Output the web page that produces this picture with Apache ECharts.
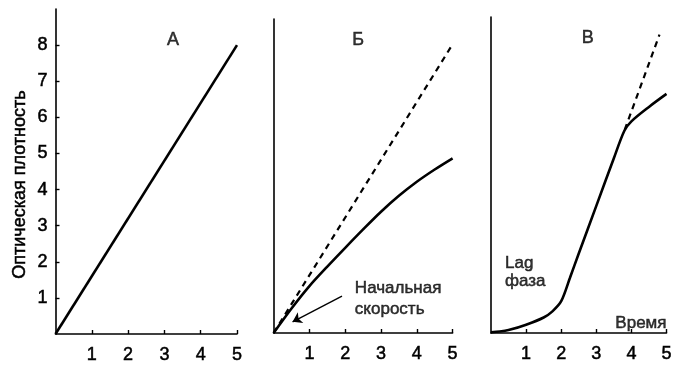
<!DOCTYPE html>
<html>
<head>
<meta charset="utf-8">
<style>
  html, body { margin: 0; padding: 0; background: #fff; }
  #chart { width: 676px; height: 365px; }
</style>
<script src="https://cdn.jsdelivr.net/npm/echarts@6/dist/echarts.min.js"></script>
</head>
<body>
<div id="chart"></div>
<script>
// Time ticks shared by the three panels
const timeTicks = [1, 2, 3, 4, 5];
const densityTicks = [1, 2, 3, 4, 5, 6, 7, 8];

// Panel А: linear growth of optical density
const aTime = [0, 5];
const aDensity = [0, 8];

// Panel Б: initial-rate tangent (dashed) and the real, slowing curve (solid)
const bTangentTime = [0, 5];
const bTangentDensity = [0, 8];
const bTime = [0, 0.5, 1, 1.5, 2, 2.5, 3, 3.5, 4, 4.5, 5];
const bDensity = [0, 0.68, 1.3, 1.84, 2.36, 2.87, 3.36, 3.8, 4.19, 4.53, 4.84];

// Panel В: lag phase, linear phase, then saturation; dashed = linear extrapolation
const cTime = [0, 0.25, 0.5, 1, 1.5, 1.75, 2, 2.25, 2.5, 3, 3.5, 3.8, 4, 4.5, 5];
const cDensity = [0.02, 0.04, 0.08, 0.23, 0.43, 0.6, 0.88, 1.53, 2.2, 3.52, 4.84, 5.6, 5.86, 6.26, 6.62];
const cExtraTime = [3.81, 4.8];
const cExtraDensity = [5.63, 8.26];

// Annotation texts and their anchor points (data units)
const panelTitles = ['А', 'Б', 'В'];
const panelTitleAt = [[3.24, 8.14], [2.36, 8.12], [2.76, 8.18]];
const rateText = 'Начальная\nскорость';
const rateTextAt = [2.27, 0.94];
const rateArrowFrom = [1.91, 1.02];
const rateArrowTo = [0.53, 0.31];
const lagText = 'Lag\nфаза';
const lagTextAt = [0.4, 1.67];
const timeText = 'Время';
const timeTextAt = [5, 0.28];

const yName = 'Оптическая плотность';

const FONT = '"Liberation Sans", Arial, sans-serif';
const INK = '#000';
// a hairline outline gives the print-like weight of the lettering
const heavy = { textBorderColor: INK, textBorderWidth: 0.5 };

const pairs = (xs, ys) => xs.map((x, i) => [x, ys[i]]);

function xAxisFor(gridIndex) {
  return {
    type: 'value', gridIndex, min: 0, max: 5, interval: 1,
    axisLine: { show: true, onZero: false, lineStyle: { color: INK, width: 1.6 } },
    axisTick: { show: true, inside: true, length: 4, customValues: timeTicks,
                lineStyle: { color: INK, width: 1.4 } },
    axisLabel: Object.assign({ show: true, customValues: timeTicks, color: INK, fontSize: 18,
                 fontFamily: FONT, margin: 12 }, heavy),
    splitLine: { show: false }
  };
}

function yAxisFor(gridIndex, max, withLabels) {
  return {
    type: 'value', gridIndex, min: 0, max: max, interval: 1,
    axisLine: { show: true, onZero: false, lineStyle: { color: INK, width: 1.6 } },
    axisTick: { show: withLabels, inside: true, length: 4, customValues: densityTicks,
                lineStyle: { color: INK, width: 1.4 } },
    axisLabel: Object.assign({ show: withLabels, customValues: densityTicks, color: INK, fontSize: 18,
                 fontFamily: FONT, margin: 8 }, heavy),
    splitLine: { show: false }
  };
}

function textSeries(xi, yi, items) {
  return {
    type: 'scatter', xAxisIndex: xi, yAxisIndex: yi, symbolSize: 0, silent: true,
    data: items.map(it => ({
      value: it.at, name: it.text,
      label: Object.assign({ show: true, position: [0, 0], formatter: it.text,
               align: it.align || 'center', verticalAlign: 'middle',
               fontSize: it.size || 17, lineHeight: it.lh || 19,
               color: INK, fontFamily: FONT }, heavy)
    }))
  };
}

const solid = { color: INK, width: 2.6 };
const dashed = { color: INK, width: 2.2, type: [6, 5] };

const option = {
  animation: false,
  backgroundColor: '#fff',
  grid: [
    { left: 55.5, top: 9, width: 181.5, height: 325 },
    { left: 273.6, top: 19, width: 179, height: 314 },
    { left: 491, top: 17, width: 175.5, height: 316 }
  ],
  xAxis: [xAxisFor(0), xAxisFor(1), xAxisFor(2)],
  yAxis: [
    Object.assign(yAxisFor(0, 9, true), {
      name: yName, nameLocation: 'middle', nameGap: 26, nameRotate: 90,
      nameTextStyle: Object.assign({ color: INK, fontSize: 18, fontFamily: FONT,
                                     padding: [0, 26, 0, 0] }, heavy)
    }),
    yAxisFor(1, 8.7, false),
    yAxisFor(2, 8.75, false)
  ],
  series: [
    { type: 'line', xAxisIndex: 0, yAxisIndex: 0, data: pairs(aTime, aDensity),
      showSymbol: false, lineStyle: solid },
    { type: 'line', xAxisIndex: 1, yAxisIndex: 1, data: pairs(bTangentTime, bTangentDensity),
      showSymbol: false, lineStyle: dashed },
    { type: 'line', xAxisIndex: 1, yAxisIndex: 1, data: pairs(bTime, bDensity),
      showSymbol: false, smooth: 0.3, lineStyle: solid,
      markLine: {
        silent: true, animation: false, label: { show: false },
        lineStyle: { color: INK, width: 1.4, type: 'solid' },
        symbolSize: 9,
        data: [[ { coord: rateArrowFrom, symbol: 'none' },
                 { coord: rateArrowTo, symbol: 'arrow' } ]]
      } },
    { type: 'line', xAxisIndex: 2, yAxisIndex: 2, data: pairs(cTime, cDensity),
      showSymbol: false, smooth: 0.3, lineStyle: solid },
    { type: 'line', xAxisIndex: 2, yAxisIndex: 2, data: pairs(cExtraTime, cExtraDensity),
      showSymbol: false, lineStyle: dashed },
    textSeries(0, 0, [{ text: panelTitles[0], at: panelTitleAt[0], size: 18 }]),
    textSeries(1, 1, [
      { text: panelTitles[1], at: panelTitleAt[1], size: 18 },
      { text: rateText, at: rateTextAt, align: 'left', lh: 21 }
    ]),
    textSeries(2, 2, [
      { text: panelTitles[2], at: panelTitleAt[2], size: 18 },
      { text: lagText, at: lagTextAt, align: 'left', lh: 18 },
      { text: timeText, at: timeTextAt, align: 'right' }
    ])
  ]
};

const chart = echarts.init(document.getElementById('chart'), null, { renderer: 'canvas' });
chart.setOption(option);
</script>
</body>
</html>
